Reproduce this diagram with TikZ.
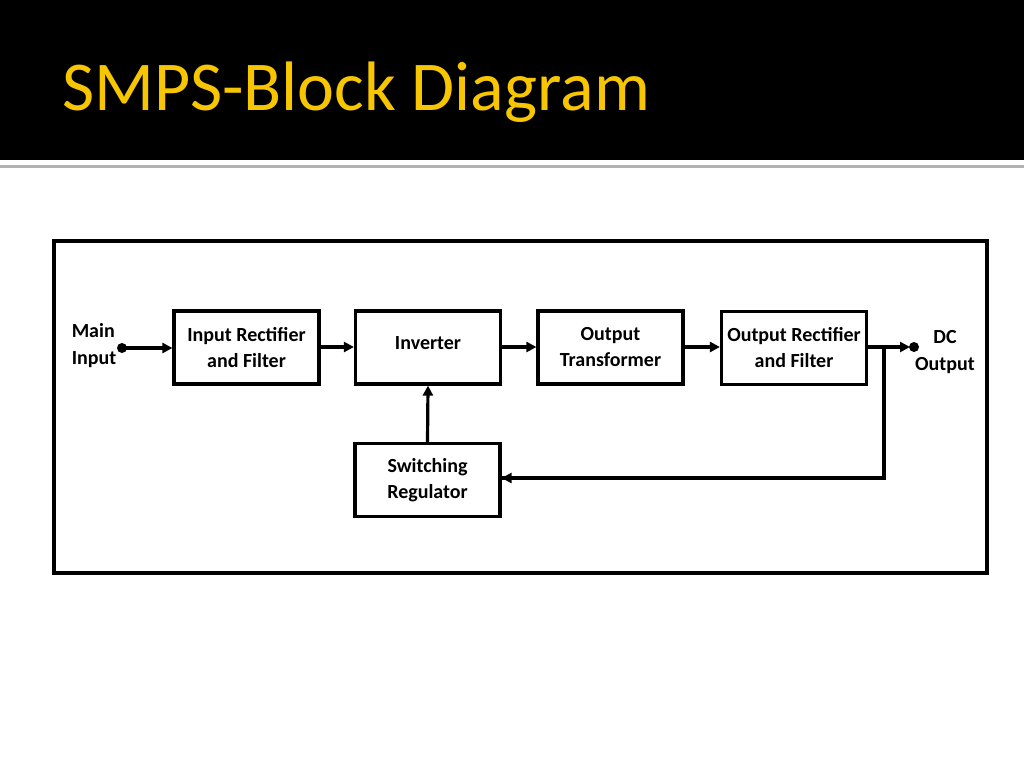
\documentclass[tikz,border=0pt]{standalone}
\usepackage{fontspec}
\setmainfont{Carlito}
\usetikzlibrary{arrows.meta}
\definecolor{titleyellow}{HTML}{F7C600}
\begin{document}
\begin{tikzpicture}[x=1pt,y=-1pt,
  blk/.style={draw,line width=3.2pt,minimum width=145pt,minimum height=73pt,align=center,font=\fontsize{20}{26}\selectfont\bfseries,inner sep=0pt},
  lbl/.style={align=center,font=\fontsize{20}{27}\selectfont\bfseries,inner sep=0pt},
  conn/.style={line width=3.2pt,-{Triangle[length=10pt,width=10pt]}},
  wire/.style={line width=3.2pt}]
\useasboundingbox (0,0) rectangle (1024,768);
\fill[black] (0,0) rectangle (1024,160);
\draw[gray!60,line width=3pt] (0,166) -- (1024,166);
\node[anchor=base west,text=titleyellow,font=\fontsize{70}{72}\selectfont,inner sep=0pt] (title) at (62,110) {SMPS-Block Diagram};
\draw[line width=3.4pt] (54,241) rectangle (987,573);
\node[blk] (irf) at (246.5,347.5) {Input Rectifier\\and Filter};
\node[blk] (inv) at (428,347.5) {\raisebox{8pt}{Inverter}};
\node[blk] (otr) at (610.5,347.5) {Output\\Transformer};
\node[blk] (orf) at (794,348) {Output Rectifier\\and Filter};
\node[blk] (swr) at (427.5,480) {Switching\\Regulator};
\node[lbl,align=left] (min) at (94,346) {Main\\Input};
\node[lbl] (dco) at (945,352) {DC\\Output};
\coordinate (din) at (122,348);
\coordinate (dout) at (914,347);
\coordinate (br) at (884,347);
\fill (din) circle (5pt);
\fill (dout) circle (5pt);
\draw[conn] (din) -- (irf.west |- din);
\draw[conn] (irf.east |- 0,347) -- (inv.west |- 0,347);
\draw[conn] (inv.east |- 0,347) -- (otr.west |- 0,347);
\draw[conn] (otr.east |- 0,347) -- (orf.west |- 0,347);
\draw[conn] (orf.east |- 0,347) -- ([xshift=-4pt]dout);
\draw[wire] (br) -- (br |- 0,478) -- (swr.east |- 0,478);
\draw[conn] (br |- 0,478) -- (swr.east |- 0,478);
\draw[conn] (swr.north) -- (inv.south);
\end{tikzpicture}
\end{document}
